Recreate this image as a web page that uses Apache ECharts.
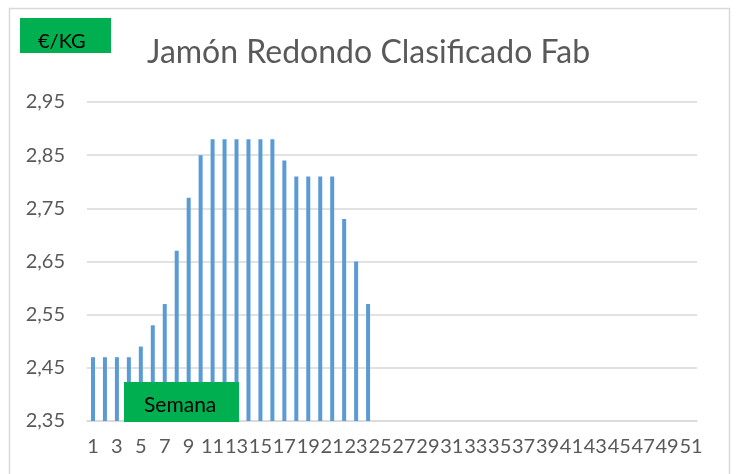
<!DOCTYPE html>
<html>
<head>
<meta charset="utf-8">
<script src="https://cdn.jsdelivr.net/npm/echarts@6/dist/echarts.min.js"></script>
<style>
  html, body { margin: 0; padding: 0; background: #fff; }
  #chart { width: 741px; height: 474px; }
</style>
</head>
<body>
<div id="chart"></div>
<script>
// semanas (eje X) y precio €/kg por semana
const semanas = ['1','2','3','4','5','6','7','8','9','10','11','12','13','14','15','16','17',
  '18','19','20','21','22','23','24','25','26','27','28','29','30','31','32','33','34',
  '35','36','37','38','39','40','41','42','43','44','45','46','47','48','49','50','51']
const precios = [2.47, 2.47, 2.47, 2.47, 2.49, 2.53, 2.57, 2.67, 2.77, 2.85, 2.88, 2.88,
  2.88, 2.88, 2.88, 2.88, 2.84, 2.81, 2.81, 2.81, 2.81, 2.73, 2.65, 2.57]
const yMin = 2.35
const yMax = 2.95
const yStep = 0.1

const titulo = 'Jamón Redondo Clasificado Fab'
const unidad = '€/KG'
const ejeX = 'Semana'

const font = 'Lato, "Open Sans", sans-serif'
const gris = '#595959'
const verde = '#00B050'

const chart = echarts.init(document.getElementById('chart'))

chart.setOption({
  animation: false,
  backgroundColor: '#fff',
  title: {
    text: titulo,
    left: 142,
    top: 32,
    textStyle: { fontFamily: font, fontSize: 32, fontWeight: 'normal', color: gris }
  },
  grid: { left: 87, right: 44, top: 102, bottom: 53 },
  xAxis: {
    type: 'category',
    data: semanas,
    axisLine: { lineStyle: { color: '#d9d9d9', width: 1.5 } },
    axisTick: { show: false },
    axisLabel: {
      interval: 1,
      margin: 16,
      color: gris,
      fontFamily: font,
      fontSize: 20
    }
  },
  yAxis: {
    type: 'value',
    min: yMin,
    max: yMax,
    interval: yStep,
    axisLine: { show: false },
    axisTick: { show: false },
    splitLine: { lineStyle: { color: '#d9d9d9', width: 1.5 } },
    axisLabel: {
      margin: 22,
      color: gris,
      fontFamily: font,
      fontSize: 20,
      formatter: v => v.toFixed(2).replace('.', ',')
    }
  },
  series: [{
    type: 'bar',
    data: precios,
    barWidth: 4,
    itemStyle: { color: '#5B9BD5' }
  }],
  graphic: [
    {
      type: 'rect',
      silent: true,
      shape: { x: 9.5, y: 8.5, width: 720, height: 480 },
      style: { fill: 'none', stroke: '#d9d9d9', lineWidth: 1.5 }
    },
    // cajas verdes de las etiquetas, por encima de las barras
    {
      type: 'rect',
      z: 100,
      shape: { x: 20, y: 18, width: 91, height: 35 },
      style: { fill: verde }
    },
    {
      type: 'text',
      z: 101,
      x: 38, y: 32,
      style: { text: unidad, fill: '#000', font: '20px ' + font }
    },
    {
      type: 'rect',
      z: 100,
      shape: { x: 124, y: 382, width: 115, height: 40 },
      style: { fill: verde }
    },
    {
      type: 'text',
      z: 101,
      x: 144, y: 395,
      style: { text: ejeX, fill: '#000', font: '21px ' + font }
    }
  ]
})
</script>
</body>
</html>
